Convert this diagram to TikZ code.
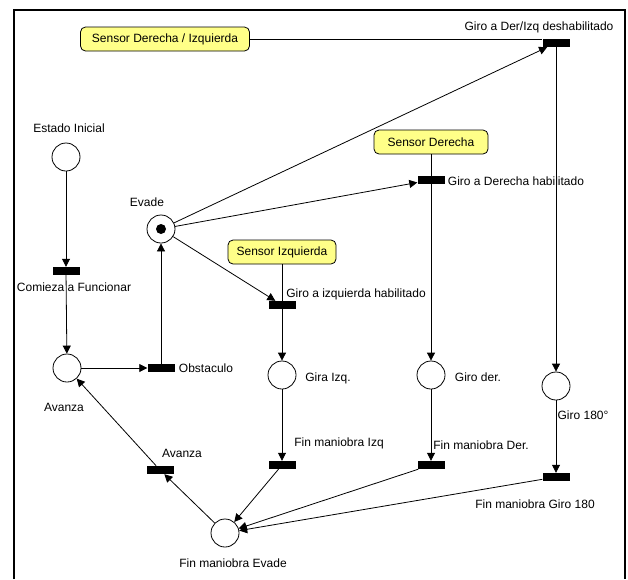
\documentclass[tikz,border=0pt]{standalone}
\usepackage{fontspec}
\setmainfont{Liberation Sans}
\usetikzlibrary{arrows.meta}
\definecolor{sensorfill}{RGB}{255,255,136}

\begin{document}
\begin{tikzpicture}[x=1pt, y=-1pt, every node/.style={font=\fontsize{12}{14}\selectfont},
          pl/.style={draw, circle, minimum size=28pt, inner sep=0pt, line width=0.8pt},
          tr/.style={fill=black, minimum width=27pt, minimum height=8pt, inner sep=0pt},
          sen/.style={draw, fill=sensorfill, rounded corners=5pt, minimum height=24pt,
                      inner sep=0pt, line width=0.8pt},
          ar/.style={-{Triangle[length=8pt, width=8pt]}, line width=0.8pt},
          ln/.style={line width=0.8pt},
          lbl/.style={inner sep=0pt}]
        \useasboundingbox (0,0) rectangle (628,579);
        \draw[line width=1.2pt] (14,579) -- (14,10) -- (625,10) -- (625,579);
        \node[sen, minimum width=169pt] (sdi) at (165,39) {Sensor Derecha / Izquierda};
        \node[sen, minimum width=114pt] (sd) at (431,142) {Sensor Derecha};
        \node[sen, minimum width=108pt] (si) at (282,252) {Sensor Izquierda};
        \node[tr] (gdd) at (556,43) {};
        \node[tr] (gdh) at (431,180) {};
        \node[tr] (gih) at (282,305) {};
        \node[tr] (cf) at (66,271) {};
        \node[tr] (ob) at (161,368) {};
        \node[tr] (fmi) at (282,465) {};
        \node[tr] (fmd) at (431,465) {};
        \node[tr] (fmg) at (556,477) {};
        \node[tr] (ava) at (160,470) {};
        \node[pl] (ei) at (66,157) {};
        \node[pl] (av) at (67,368) {};
        \node[pl] (ev) at (161,229) {};
        \node[circle, fill, minimum size=10pt, inner sep=0pt] (tok) at (ev) {};
        \node[pl] (gi) at (282,375) {};
        \node[pl] (gd) at (431,375) {};
        \node[pl] (g180) at (556,386) {};
        \node[pl] (fme) at (225,533) {};
        \node[lbl] (gddL) at (539,27) {Giro a Der/Izq deshabilitado};
        \node[lbl] (gdhL) at (516,181) {Giro a Derecha habilitado};
        \node[lbl] (gihL) at (356,294) {Giro a izquierda habilitado};
        \node[lbl] (eiL) at (69,128) {Estado Inicial};
        \node[lbl] (evL) at (147,202) {Evade};
        \node[lbl] (cfL) at (74,287) {Comieza a Funcionar};
        \node[lbl] (avL) at (64,407) {Avanza};
        \node[lbl] (obL) at (206,368) {Obstaculo};
        \node[lbl] (avaL) at (182,453) {Avanza};
        \node[lbl] (fmeL) at (233,563) {Fin maniobra Evade};
        \node[lbl] (giL) at (328,378) {Gira Izq.};
        \node[lbl] (fmiL) at (339,443) {Fin maniobra Izq};
        \node[lbl] (gdL) at (478,377) {Giro der.};
        \node[lbl] (fmdL) at (481,445) {Fin maniobra Der.};
        \node[lbl] (g180L) at (583,415) {Giro 180°};
        \node[lbl] (fmgL) at (535,504) {Fin maniobra Giro 180};
        \draw[ln] (sdi.east) -- (sdi.east -| gdd.west);
        \draw[ln] (sd) -- (gdh);
        \draw[ln] (si) -- (gih);
        \draw[ar] (ei) -- (cf); \draw[ar] (cf) -- (av);
        \draw[ar] (av) -- (ob); \draw[ar] (ob) -- (ev);
        \draw[ar] (ev) -- (gdd); \draw[ar] (ev) -- (gdh); \draw[ar] (ev) -- (gih);
        \draw[ar] (gih) -- (gi); \draw[ar] (gi) -- (fmi);
        \draw[ar] (gdh) -- (gd); \draw[ar] (gd) -- (fmd);
        \draw[ar] (gdd) -- (g180); \draw[ar] (g180) -- (fmg);
        \draw[ar] (fmi) -- (fme); \draw[ar] (fmd) -- (fme); \draw[ar] (fmg) -- (fme);
        \draw[ar] (fme) -- (ava); \draw[ar] (ava) -- (av);
      \end{tikzpicture}
\end{document}
